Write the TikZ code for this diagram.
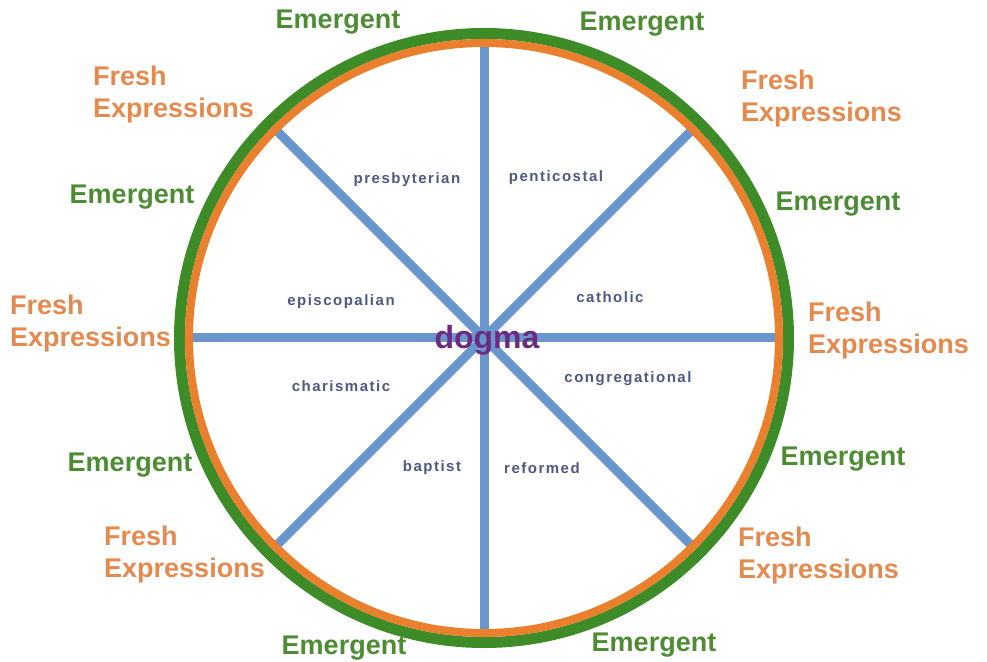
\documentclass[tikz,border=0pt]{standalone}
\usepackage{fontspec}
\setmainfont{Liberation Sans}
\newfontfamily\churchfont[LetterSpace=10]{Liberation Sans}

\definecolor{rimgreen}{RGB}{62,140,40}
\definecolor{rimorange}{RGB}{234,128,46}
\definecolor{spokeblue}{RGB}{104,150,205}
\definecolor{emgreen}{RGB}{78,140,52}
\definecolor{freshorange}{RGB}{229,138,78}
\definecolor{churchslate}{RGB}{78,88,128}
\definecolor{dogmapurple}{RGB}{108,42,128}

\tikzset{
    emergent/.style={text=emgreen, font=\bfseries\fontsize{27}{32}\selectfont, inner sep=0pt},
    fresh/.style={text=freshorange, font=\bfseries\fontsize{27}{32}\selectfont, align=left, anchor=west, inner sep=0pt},
    church/.style={text=churchslate, font=\churchfont\bfseries\fontsize{15}{18}\selectfont, inner sep=0pt},
}

\begin{document}
\begin{tikzpicture}[x=1pt, y=1pt]
    \useasboundingbox (-484,-323) rectangle (503,338);
    \coordinate (hub) at (0,0);

    % Spokes of the wheel
    \foreach \a in {0,45,...,315}
        \draw[spokeblue, line width=9pt] (hub) -- (\a:293);

    % Rim: green outside, orange inside
    \draw[rimgreen, line width=11pt] (hub) circle (304.5);
    \draw[rimorange, line width=8pt] (hub) circle (295);

    % Centre
    \node[text=dogmapurple, font=\bfseries\fontsize{32}{36}\selectfont, inner sep=0pt] (dogma) at (3,-2) {dogma};

    % Denominations between the spokes
    \node[church] (presbyterian) at (-77,158) {presbyterian};
    \node[church] (penticostal) at (72,160) {penticostal};
    \node[church] (episcopalian) at (-143,36) {episcopalian};
    \node[church] (catholic) at (126,41) {catholic};
    \node[church] (charismatic) at (-143,-48) {charismatic};
    \node[church] (congregational) at (144,-41) {congregational};
    \node[church] (baptist) at (-52,-130) {baptist};
    \node[church] (reformed) at (58,-130) {reformed};

    % Emergent round the rim
    \node[emergent] (em1) at (-146,316) {Emergent};
    \node[emergent] (em2) at (158,314) {Emergent};
    \node[emergent] (em3) at (-352,141) {Emergent};
    \node[emergent] (em4) at (354,134) {Emergent};
    \node[emergent] (em5) at (-354,-127) {Emergent};
    \node[emergent] (em6) at (359,-121) {Emergent};
    \node[emergent] (em7) at (-140,-310) {Emergent};
    \node[emergent] (em8) at (170,-307) {Emergent};

    % Fresh Expressions round the rim
    \node[fresh] (fx1) at (-391,243) {Fresh\\Expressions};
    \node[fresh] (fx2) at (257,239) {Fresh\\Expressions};
    \node[fresh] (fx3) at (-474,14) {Fresh\\Expressions};
    \node[fresh] (fx4) at (324,7) {Fresh\\Expressions};
    \node[fresh] (fx5) at (-380,-217) {Fresh\\Expressions};
    \node[fresh] (fx6) at (254,-218) {Fresh\\Expressions};
\end{tikzpicture}
\end{document}
